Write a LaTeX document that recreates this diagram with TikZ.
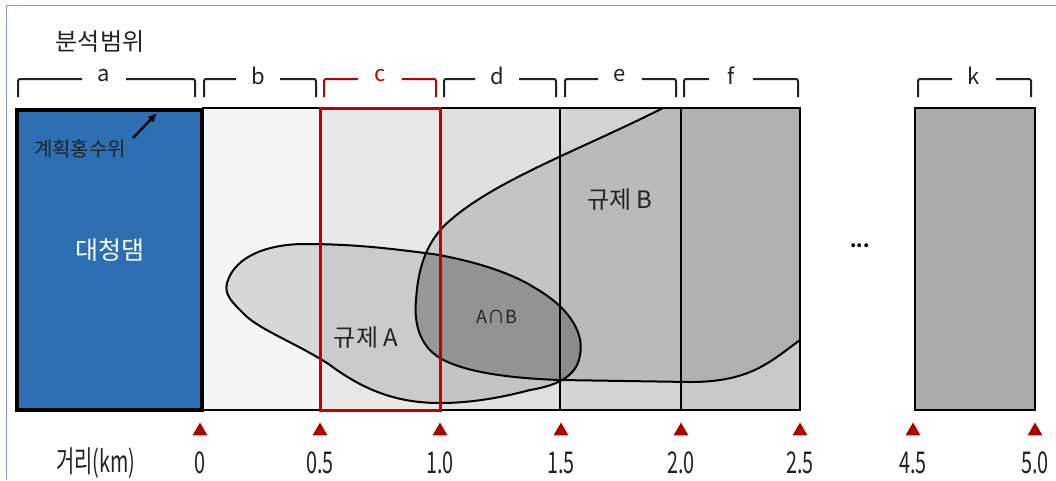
\documentclass[tikz,border=0pt]{standalone}
\usepackage{fontspec}
\setmainfont{Noto Sans CJK KR}
\newfontfamily\kr{Noto Sans CJK KR}
\newfontfamily\krc[FakeStretch=0.66]{Noto Sans CJK KR}
\usetikzlibrary{shapes.geometric,arrows.meta}
\definecolor{damblue}{HTML}{2E6FB3}
\definecolor{redc}{HTML}{C00000}
\definecolor{frameblue}{HTML}{7F9FDF}
\definecolor{txt}{HTML}{222222}
\tikzset{
  brk/.style={line width=2pt, rounded corners=2pt},
  seclbl/.style={font=\kr\fontsize{22}{23}\selectfont, text=txt, inner sep=0pt},
  axlbl/.style={font=\krc\fontsize{30}{31}\selectfont, text=txt, inner sep=0pt},
  tri/.style={regular polygon, regular polygon sides=3, fill=redc!90!black, draw=none, inner sep=0pt, minimum size=17pt},
  shp/.style={fill=black, fill opacity=0.12},
  outl/.style={line width=2pt, black},
}
\begin{document}
\begin{tikzpicture}[x=1pt,y=-1pt]
\useasboundingbox (0,0) rectangle (1056,480);
% frame
\draw[frameblue, line width=1pt] (6,480) -- (6,5) -- (1056,5);
% section fills
\fill[black!4] (202,108) rectangle (320,410);
\fill[black!9] (320,108) rectangle (440,410);
\fill[black!12] (440,108) rectangle (560,410);
\fill[black!17] (560,108) rectangle (681,410);
\fill[black!21] (681,108) rectangle (800,410);
% regulation B fill
\fill[shp] (663,108) -- (800,108) -- (800,340) .. controls (770,362) and (750,382) .. (690,382) -- (560,380) .. controls (500,378) and (460,370) .. (440,358) .. controls (418,345) and (414,320) .. (416,300) .. controls (418,270) and (425,245) .. (445,225) .. controls (490,182) and (580,150) .. (663,108) -- cycle;
% regulation A fill
\fill[shp] (227,283) .. controls (235,255) and (270,244) .. (305,244) .. controls (360,244) and (400,250) .. (433,254) .. controls (480,262) and (515,275) .. (535,288) .. controls (565,305) and (585,330) .. (580,355) .. controls (577,375) and (560,385) .. (530,390) .. controls (500,398) and (470,403) .. (440,403) .. controls (405,403) and (370,395) .. (330,365) .. controls (300,345) and (260,330) .. (245,315) .. controls (232,302) and (224,295) .. (227,283) -- cycle;
% intersection darker
\begin{scope}
\clip (227,283) .. controls (235,255) and (270,244) .. (305,244) .. controls (360,244) and (400,250) .. (433,254) .. controls (480,262) and (515,275) .. (535,288) .. controls (565,305) and (585,330) .. (580,355) .. controls (577,375) and (560,385) .. (530,390) .. controls (500,398) and (470,403) .. (440,403) .. controls (405,403) and (370,395) .. (330,365) .. controls (300,345) and (260,330) .. (245,315) .. controls (232,302) and (224,295) .. (227,283) -- cycle;
\fill[black, fill opacity=0.14] (663,108) -- (800,108) -- (800,340) .. controls (770,362) and (750,382) .. (690,382) -- (560,380) .. controls (500,378) and (460,370) .. (440,358) .. controls (418,345) and (414,320) .. (416,300) .. controls (418,270) and (425,245) .. (445,225) .. controls (490,182) and (580,150) .. (663,108) -- cycle;
\end{scope}
% outlines
\draw[outl] (800,340) .. controls (770,362) and (750,382) .. (690,382) -- (560,380) .. controls (500,378) and (460,370) .. (440,358) .. controls (418,345) and (414,320) .. (416,300) .. controls (418,270) and (425,245) .. (445,225) .. controls (490,182) and (580,150) .. (663,108);
\draw[outl] (227,283) .. controls (235,255) and (270,244) .. (305,244) .. controls (360,244) and (400,250) .. (433,254) .. controls (480,262) and (515,275) .. (535,288) .. controls (565,305) and (585,330) .. (580,355) .. controls (577,375) and (560,385) .. (530,390) .. controls (500,398) and (470,403) .. (440,403) .. controls (405,403) and (370,395) .. (330,365) .. controls (300,345) and (260,330) .. (245,315) .. controls (232,302) and (224,295) .. (227,283) -- cycle;
% section lines
\draw[line width=1.3pt] (560,108) -- (560,410);
\draw[line width=1.3pt] (681,108) -- (681,410);
\draw[line width=2pt] (202,108) -- (800,108) -- (800,410) -- (202,410);
% red box c
\draw[redc, line width=3pt] (320,108) rectangle (440,410);
% dam
\draw[fill=damblue, line width=3.5pt] (17,110) rectangle (202,410);
\node[font=\kr\fontsize{25}{26}\selectfont, text=white] (dam) at (110,250) {대청댐};
\node[font=\kr\fontsize{20}{21}\selectfont, text=txt, inner sep=1pt] (hfw) at (80,149) {계획홍수위};
\coordinate (hfwtip) at (157,113);
\draw[-{Latex[length=9pt,width=8pt]}, line width=2.4pt] (133,138) -- (hfwtip);
% k box
\draw[fill=black!33, line width=2pt] (915,108) rectangle (1035,410);
\node[font=\kr\bfseries\fontsize{18}{18}\selectfont] (dots) at (860,246) {...};
% labels inside
\node[font=\kr\fontsize{24}{25}\selectfont, text=txt] (rb) at (620,200) {규제 B};
\node[font=\kr\fontsize{24}{25}\selectfont, text=txt] (ra) at (366,338) {규제 A};
\node[font=\kr\fontsize{18}{19}\selectfont, text=txt] (ab) at (497,317) {A∩B};
% title
\node[font=\kr\fontsize{24}{25}\selectfont, text=txt] (title) at (100,42) {분석범위};
% brackets
\foreach \xa/\xb/\xl/\lab/\col in {18/195/104/a/txt, 204/316/258/b/txt, 324/436/380/c/redc, 444/556/497/d/txt, 565/676/620/e/txt, 684/798/731/f/txt, 918/1031/974/k/txt}{
  \draw[brk, \col] (\xa,97) -- (\xa,79) -- (\xl-22,79);
  \draw[brk, \col] (\xl+22,79) -- (\xb,79) -- (\xb,97);
  \node[seclbl, text=\col] (lbl\lab) at (\xl,76) {\lab};
}
% axis
\foreach \x/\lab [count=\i] in {200/0, 320/0.5, 440/1.0, 561/1.5, 681/2.0, 800/2.5, 913/4.5, 1035/5.0}{
  \node[tri] (t\i) at (\x,431) {};
  \node[axlbl] (v\i) at (\x,463) {\lab};
}
\node[axlbl] (axname) at (96,463) {거리(km)};
\end{tikzpicture}
\end{document}
